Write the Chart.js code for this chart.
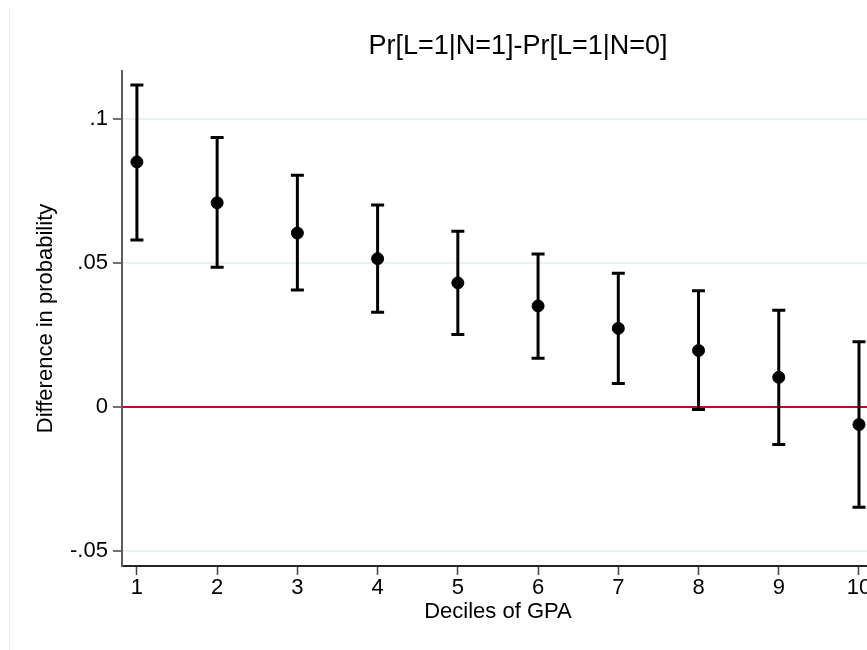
<!DOCTYPE html>
<html>
<head>
<meta charset="utf-8">
<script src="https://cdn.jsdelivr.net/npm/chart.js@4.4.1/dist/chart.umd.min.js"></script>
<style>
  html, body { margin: 0; padding: 0; background: #fff; overflow: hidden; }
  #wrap { position: relative; width: 1036px; height: 650px; }
  #title {
    position: absolute; left: 0; top: 32px; width: 1036px;
    text-align: center; font: 27px/27px "Liberation Sans", Arial, sans-serif; color: #000;
  }
</style>
</head>
<body>
<div id="wrap">
  <div id="title">Pr[L=1|N=1]-Pr[L=1|N=0]</div>
  <canvas id="gpaChart" width="1036" height="650"></canvas>
</div>
<script>
// deciles and estimated differences
const deciles = [1, 2, 3, 4, 5, 6, 7, 8, 9, 10];
const estimates = [0.0851, 0.0709, 0.0604, 0.0515, 0.0431, 0.0351, 0.0273, 0.0196, 0.0103, -0.0061];
const lowerCI = [0.0580, 0.0485, 0.0406, 0.0329, 0.0252, 0.0169, 0.0082, -0.0009, -0.0130, -0.0348];
const upperCI = [0.1118, 0.0936, 0.0805, 0.0701, 0.0610, 0.0531, 0.0464, 0.0404, 0.0336, 0.0227];

const yTickValues = [-0.05, 0, 0.05, 0.1];
const yTickLabels = ['-.05', '0', '.05', '.1'];

const gridColor = '#eaf1f3';
const zeroColor = '#c10534';
const fontFamily = '"Liberation Sans", Arial, sans-serif';

const points = deciles.map((d, i) => ({ x: d, y: estimates[i] }));

// light frame line on the left, like the Stata graph region
const frameLine = {
  id: 'frameLine',
  beforeDraw(chart) {
    const ctx = chart.ctx;
    ctx.save();
    ctx.strokeStyle = '#e4eef0';
    ctx.lineWidth = 1;
    ctx.beginPath();
    ctx.moveTo(9.5, 9);
    ctx.lineTo(9.5, chart.height);
    ctx.stroke();
    ctx.restore();
  }
};

// capped spikes for the confidence intervals
const errorBars = {
  id: 'errorBars',
  beforeDatasetsDraw(chart) {
    const { ctx, scales } = chart;
    ctx.save();
    ctx.strokeStyle = '#000';
    ctx.lineWidth = 3;
    deciles.forEach((d, i) => {
      const px = scales.x.getPixelForValue(d);
      const lo = scales.y.getPixelForValue(lowerCI[i]);
      const hi = scales.y.getPixelForValue(upperCI[i]);
      ctx.beginPath();
      ctx.moveTo(px, lo);
      ctx.lineTo(px, hi);
      ctx.moveTo(px - 6.5, lo);
      ctx.lineTo(px + 6.5, lo);
      ctx.moveTo(px - 6.5, hi);
      ctx.lineTo(px + 6.5, hi);
      ctx.stroke();
    });
    ctx.restore();
  }
};

const ctx = document.getElementById('gpaChart').getContext('2d');
const chart = new Chart(ctx, {
  type: 'scatter',
  data: {
    datasets: [{
      data: points,
      backgroundColor: '#000',
      borderColor: '#000',
      pointRadius: 6,
      pointHoverRadius: 6,
      showLine: false
    }]
  },
  options: {
    responsive: false,
    animation: false,
    layout: { padding: { left: 0, right: 162, top: 71, bottom: 27 } },
    plugins: {
      legend: { display: false },
      tooltip: { enabled: false }
    },
    scales: {
      x: {
        type: 'linear',
        min: 0.813,
        max: 10.187,
        afterBuildTicks: axis => { axis.ticks = deciles.map(v => ({ value: v })); },
        ticks: {
          color: '#000',
          padding: 2,
          font: { family: fontFamily, size: 22, lineHeight: 1 },
          callback: v => String(v)
        },
        grid: { drawOnChartArea: false, drawTicks: true, tickLength: 9, tickColor: '#444', tickWidth: 1.5 },
        border: { display: true, color: '#222', width: 2 },
        title: {
          display: true,
          text: 'Deciles of GPA',
          color: '#000',
          font: { family: fontFamily, size: 22, lineHeight: 1 },
          padding: { top: 0, bottom: 0 }
        }
      },
      y: {
        type: 'linear',
        min: -0.05521,
        max: 0.11667,
        afterBuildTicks: axis => { axis.ticks = yTickValues.map(v => ({ value: v })); },
        ticks: {
          color: '#000',
          padding: 5,
          font: { family: fontFamily, size: 22, lineHeight: 1 },
          callback: (v, i) => yTickLabels[i]
        },
        grid: {
          color: c => (c.tick && c.tick.value === 0 ? zeroColor : gridColor),
          lineWidth: 2,
          tickLength: 9,
          tickColor: '#444',
          tickWidth: 1.5
        },
        border: { display: true, color: '#5c5c5c', width: 2 },
        title: {
          display: true,
          text: 'Difference in probability',
          color: '#000',
          font: { family: fontFamily, size: 22, lineHeight: 1 },
          padding: { top: 35, bottom: 8 }
        }
      }
    }
  },
  plugins: [frameLine, errorBars]
});
</script>
</body>
</html>
